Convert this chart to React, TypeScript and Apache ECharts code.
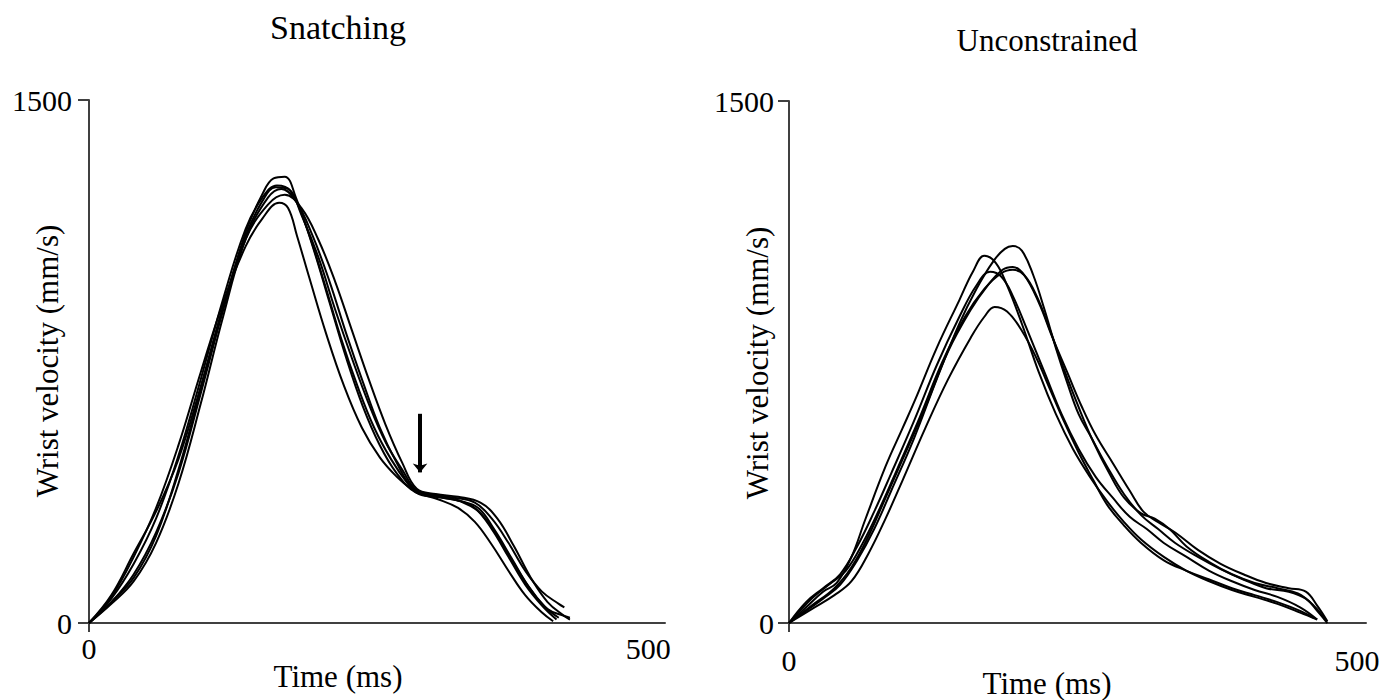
import React, { useEffect, useRef } from "react";
import * as echarts from "echarts";

// Snatching (left panel) curves: [time ms, wrist velocity mm/s]
const snatch1 = [[0,0],[20,60],[40,140],[60,260],[80,430],[100,660],[120,900],[140,1120],[155,1230],[165,1275],[175,1280],[185,1220],[200,1080],[215,920],[230,760],[245,620],[260,510],[275,430],[292,375],[310,365],[330,352],[345,330],[360,270],[375,190],[390,110],[405,50],[418,10]];
const snatch2 = [[0,0],[20,70],[40,170],[60,300],[80,480],[100,700],[120,930],[140,1130],[155,1220],[168,1255],[180,1240],[195,1130],[210,980],[225,820],[240,680],[255,560],[270,470],[285,400],[295,370],[315,360],[335,345],[350,315],[365,250],[380,170],[395,95],[410,40],[425,20],[430,15]];
const snatch3 = [[0,0],[20,75],[40,190],[60,330],[80,510],[100,720],[120,920],[140,1080],[155,1160],[170,1205],[178,1190],[186,1110],[197,990],[212,830],[228,680],[244,560],[260,475],[275,420],[288,385],[297,370],[312,355],[330,330],[345,290],[360,225],[375,150],[390,80],[405,30],[415,5]];
const snatch4 = [[0,0],[20,55],[40,120],[60,230],[80,400],[100,630],[120,880],[140,1100],[160,1220],[172,1245],[185,1210],[200,1110],[215,980],[230,830],[245,690],[260,560],[275,460],[290,385],[305,370],[325,360],[345,345],[360,300],[375,230],[390,150],[405,90],[420,55],[425,45]];
const snatch5 = [[0,0],[20,60],[40,130],[60,250],[80,440],[100,670],[120,900],[140,1100],[160,1200],[175,1228],[190,1190],[205,1100],[220,980],[235,840],[250,700],[265,570],[280,460],[293,385],[310,370],[330,362],[350,345],[365,300],[380,220],[395,130],[410,60],[425,20],[430,10]];
const snatch6 = [[0,0],[20,80],[40,200],[60,320],[80,470],[100,680],[120,910],[140,1110],[155,1210],[167,1250],[178,1245],[190,1170],[205,1050],[220,900],[235,760],[250,630],[265,520],[280,440],[293,380],[312,362],[332,350],[348,330],[362,270],[378,185],[393,105],[408,45],[420,15]];

// Unconstrained (right panel) curves
const free1 = [[0,0],[15,45],[30,90],[42,115],[55,190],[67,296],[85,450],[100,560],[111,641],[130,790],[150,928],[162,1010],[172,1055],[182,1035],[192,970],[205,860],[220,720],[235,600],[250,500],[265,420],[280,350],[295,290],[310,240],[330,190],[350,150],[370,120],[390,95],[410,75],[430,55],[450,30],[465,10]];
const free2 = [[0,0],[15,35],[30,70],[45,110],[60,180],[75,270],[90,380],[110,530],[130,700],[150,860],[165,960],[180,1040],[190,1075],[197,1083],[205,1070],[215,1000],[225,900],[235,790],[245,690],[255,600],[265,540],[280,450],[295,370],[310,310],[325,270],[340,230],[360,190],[380,155],[400,125],[420,100],[440,90],[455,70],[465,35],[474,0]];
const free3 = [[0,0],[15,60],[30,100],[45,140],[60,220],[75,320],[90,430],[110,580],[130,740],[150,880],[165,970],[177,1009],[187,995],[197,940],[210,840],[225,720],[240,600],[255,500],[270,420],[285,360],[300,305],[315,270],[330,230],[350,190],[370,150],[390,120],[410,95],[430,75],[450,45],[465,10]];
const free4 = [[0,0],[20,50],[40,100],[55,160],[70,250],[85,360],[100,470],[120,620],[140,780],[160,900],[175,970],[188,1015],[197,1023],[207,1000],[220,920],[232,820],[245,720],[258,620],[270,540],[285,460],[300,380],[312,320],[325,290],[340,260],[360,210],[380,170],[400,140],[420,115],[440,100],[455,90],[465,50],[474,5]];
const free5 = [[0,0],[20,70],[35,110],[50,150],[65,230],[80,330],[95,440],[115,590],[135,750],[155,880],[172,960],[187,1005],[197,1015],[207,1000],[218,940],[230,840],[242,730],[255,620],[268,520],[282,430],[295,360],[310,315],[322,300],[335,270],[350,220],[370,175],[390,140],[410,115],[430,100],[448,85],[462,50],[472,10]];
const free6 = [[0,0],[20,40],[40,80],[55,120],[70,200],[85,300],[100,410],[120,560],[140,700],[160,820],[172,880],[181,908],[192,895],[205,840],[218,760],[230,670],[242,580],[255,490],[268,410],[280,340],[295,280],[310,230],[330,180],[350,150],[370,125],[390,100],[410,80],[430,60],[450,35],[462,15]];

const snatchCurves = [snatch1, snatch2, snatch3, snatch4, snatch5, snatch6];
const freeCurves = [free1, free2, free3, free4, free5, free6];

const xTickLabels = [0, 500];
const yTickValues = [0, 1500];
// arrow annotation (time ms, velocity from -> to)
const arrowTime = 296;
const arrowFrom = 600;
const arrowTo = 432;

const panelTitles = ["Snatching", "Unconstrained"];
const xName = "Time (ms)";
const yName = "Wrist velocity (mm/s)";

const FONT = "Liberation Serif";
const AXIS_COLOR = "#404040";

export default function App() {
  const ref = useRef<HTMLDivElement>(null);
  useEffect(() => {
    if (!ref.current) return;
    const chart = echarts.init(ref.current, null, { renderer: "svg" });
    const fmt = (v: number) => String(v);
    const mkX = (gridIndex: number, max: number, labelMargin: number) => ({
      type: "value",
      gridIndex,
      min: 0,
      max,
      axisLine: { show: true, lineStyle: { color: AXIS_COLOR, width: 2 } },
      axisTick: { show: true, customValues: [0], length: 9, lineStyle: { color: AXIS_COLOR, width: 2 } },
      axisLabel: { customValues: xTickLabels, formatter: fmt, margin: labelMargin, color: "#000", fontFamily: FONT, fontSize: 30 },
      splitLine: { show: false },
    });
    const mkY = (gridIndex: number, labelMargin: number) => ({
      type: "value",
      gridIndex,
      min: 0,
      max: 1500,
      interval: 1500,
      axisLine: { show: true, lineStyle: { color: AXIS_COLOR, width: 2 } },
      axisTick: { show: true, customValues: yTickValues, length: 11, lineStyle: { color: AXIS_COLOR, width: 2 } },
      axisLabel: { customValues: yTickValues, formatter: fmt, margin: labelMargin, color: "#000", fontFamily: FONT, fontSize: 30 },
      splitLine: { show: false },
    });
    const lineSeries = (data: number[][], idx: number) => ({
      type: "line",
      xAxisIndex: idx,
      yAxisIndex: idx,
      data,
      smooth: 0.4,
      symbol: "none",
      lineStyle: { color: "#000", width: 2 },
      silent: true,
    });
    const series: any[] = [
      ...snatchCurves.map((d) => lineSeries(d, 0)),
      ...freeCurves.map((d) => lineSeries(d, 1)),
    ];
    series[0].markLine = {
      silent: true,
      animation: false,
      label: { show: false },
      lineStyle: { color: "#000", width: 4, type: "solid" },
      symbolSize: [11, 9],
      data: [[{ coord: [arrowTime, arrowFrom], symbol: "none" }, { coord: [arrowTime, arrowTo], symbol: "arrow" }]],
    };
    const txt = (text: string, x: number, y: number, size: number, rotation = 0) => ({
      type: "text",
      x,
      y,
      rotation,
      style: { text, fill: "#000", font: `${size}px "${FONT}"`, align: "center", verticalAlign: "middle" },
    });
    chart.setOption({
      animation: false,
      backgroundColor: "#fff",
      grid: [
        { left: 89, top: 100, width: 576, height: 523 },
        { left: 789, top: 101, width: 577, height: 522 },
      ],
      xAxis: [mkX(0, 515, 10), mkX(1, 508, 22)],
      yAxis: [mkY(0, 17), mkY(1, 15)],
      series,
      graphic: [
        txt(panelTitles[0], 338, 27, 34),
        txt(panelTitles[1], 1047, 40, 31),
        txt(xName, 338, 676, 31),
        txt(xName, 1047, 683, 31),
        txt(yName, 47, 361, 31, Math.PI / 2),
        txt(yName, 757, 363, 31, Math.PI / 2),
      ],
    });
    return () => chart.dispose();
  }, []);
  return <div ref={ref} style={{ position: "fixed", left: 0, top: 0, width: 1393, height: 700 }} />;
}
